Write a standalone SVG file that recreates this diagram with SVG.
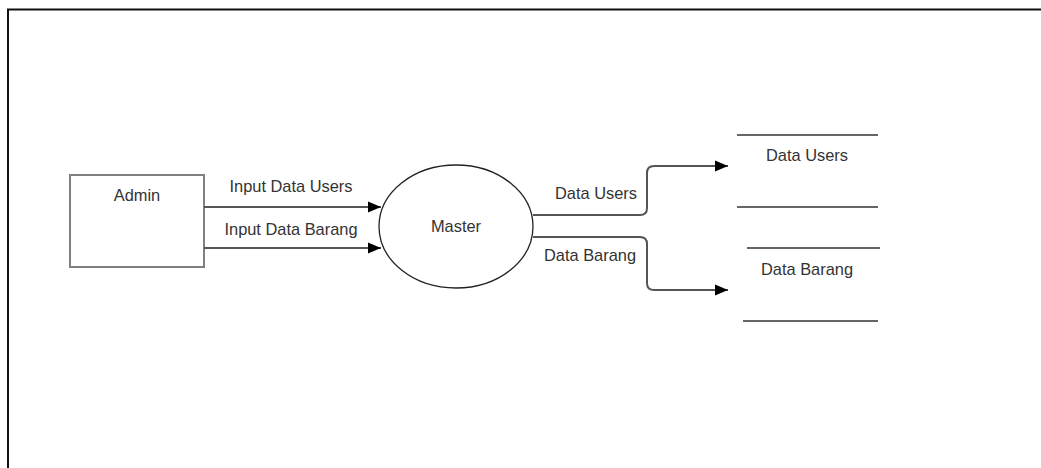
<svg xmlns="http://www.w3.org/2000/svg" width="1041" height="468" viewBox="0 0 1041 468">
<style>
text{font-family:"Liberation Sans",Arial,sans-serif;font-size:16.4px;fill:#333;text-anchor:middle}
.ln{fill:none;stroke:#555;stroke-width:2}
.st{stroke:#666;stroke-width:2}
</style>
<defs>
<marker id="ah" markerWidth="14" markerHeight="12" refX="13" refY="6" orient="auto" markerUnits="userSpaceOnUse">
<path d="M0,0.5 L13,6 L0,11.5 Z" fill="#000"/>
</marker>
</defs>
<rect width="1041" height="468" fill="#fff"/>
<path d="M8,468 V9.5 H1041" fill="none" stroke="#111" stroke-width="2"/>
<g id="admin">
<rect x="70" y="175" width="134" height="92" fill="#fff" stroke="#808080" stroke-width="2"/>
<text x="137" y="201">Admin</text>
</g>
<g id="master">
<ellipse cx="456" cy="226.5" rx="77" ry="61.5" fill="#fff" stroke="#222" stroke-width="1.3"/>
<text x="456" y="232">Master</text>
</g>
<g id="store-users">
<line class="st" x1="737" y1="135" x2="878" y2="135"/>
<line class="st" x1="737" y1="207" x2="878" y2="207"/>
<text x="807" y="161">Data Users</text>
</g>
<g id="store-barang">
<line class="st" x1="747" y1="248" x2="880" y2="248"/>
<line class="st" x1="743" y1="321" x2="878" y2="321"/>
<text x="807" y="275">Data Barang</text>
</g>
<g id="connectors">
<line class="ln" x1="204" y1="207" x2="381" y2="207" marker-end="url(#ah)"/>
<line class="ln" x1="204" y1="248" x2="381" y2="248" marker-end="url(#ah)"/>
<path class="ln" d="M533,215 H640 Q647,215 647,208 V173 Q647,166 654,166 H728" marker-end="url(#ah)"/>
<path class="ln" d="M533,237 H640 Q647,237 647,244 V283 Q647,290 654,290 H728" marker-end="url(#ah)"/>
<text x="291" y="192">Input Data Users</text>
<text x="291" y="235">Input Data Barang</text>
<text x="596" y="199">Data Users</text>
<text x="590" y="261">Data Barang</text>
</g>
</svg>
